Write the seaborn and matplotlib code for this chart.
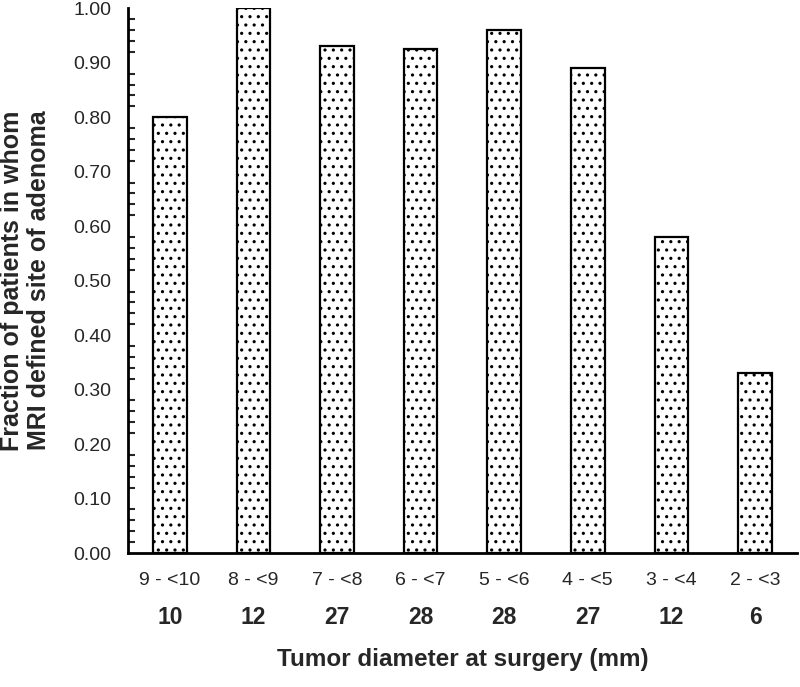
import matplotlib
matplotlib.use("Agg")
import matplotlib.pyplot as plt
import seaborn as sns
import pandas as pd
from matplotlib.ticker import MultipleLocator, FormatStrFormatter

# data
diameter_bins = ["9 - <10", "8 - <9", "7 - <8", "6 - <7", "5 - <6", "4 - <5", "3 - <4", "2 - <3"]
fraction_mri = [0.80, 1.00, 0.93, 0.925, 0.96, 0.89, 0.58, 0.33]
patient_counts = [10, 12, 27, 28, 28, 27, 12, 6]

df = pd.DataFrame({"bin": diameter_bins, "fraction": fraction_mri})

sns.set_style("white")
plt.rcParams["font.family"] = ["Liberation Sans", "DejaVu Sans"]
plt.rcParams["hatch.linewidth"] = 1.1

fig = plt.figure(figsize=(8, 6.87), dpi=100)
ax = fig.add_axes([0.16, 0.195, 0.836, 0.793])

sns.barplot(data=df, x="bin", y="fraction", color="white", edgecolor="black",
            linewidth=1.6, width=0.4, saturation=1, ax=ax)
for bar in ax.patches:
    bar.set_hatch("..")

ax.set_xlim(-0.5, 7.5)
ax.set_ylim(0, 1.0)
ax.yaxis.set_major_locator(MultipleLocator(0.1))
ax.yaxis.set_minor_locator(MultipleLocator(0.02))
ax.yaxis.set_major_formatter(FormatStrFormatter("%.2f"))
ax.tick_params(axis="y", which="both", direction="in", width=1.5, labelsize=14, pad=12)
ax.tick_params(axis="y", which="major", length=6)
ax.tick_params(axis="y", which="minor", length=5, left=True)
ax.tick_params(axis="x", length=0, labelsize=14, pad=14)

sns.despine(ax=ax)
for side in ["left", "bottom"]:
    ax.spines[side].set_linewidth(2)
    ax.spines[side].set_color("black")

# patient numbers under each category
for i, n in enumerate(patient_counts):
    ax.text(i, -0.119, str(n), transform=ax.get_xaxis_transform(),
            ha="center", va="center", fontsize=16.5, fontweight="bold")

ax.set_xlabel("Tumor diameter at surgery (mm)", fontsize=17.5, fontweight="bold")
ax.xaxis.label.set_va("center")
ax.xaxis.set_label_coords(0.5, -0.196)
ax.set_ylabel("Fraction of patients in whom\nMRI defined site of adenoma",
              fontsize=18, fontweight="bold", linespacing=1.15)
ax.yaxis.label.set_va("center")
ax.yaxis.set_label_coords(-0.153, 0.5)

fig.savefig("out.png", dpi=100)
